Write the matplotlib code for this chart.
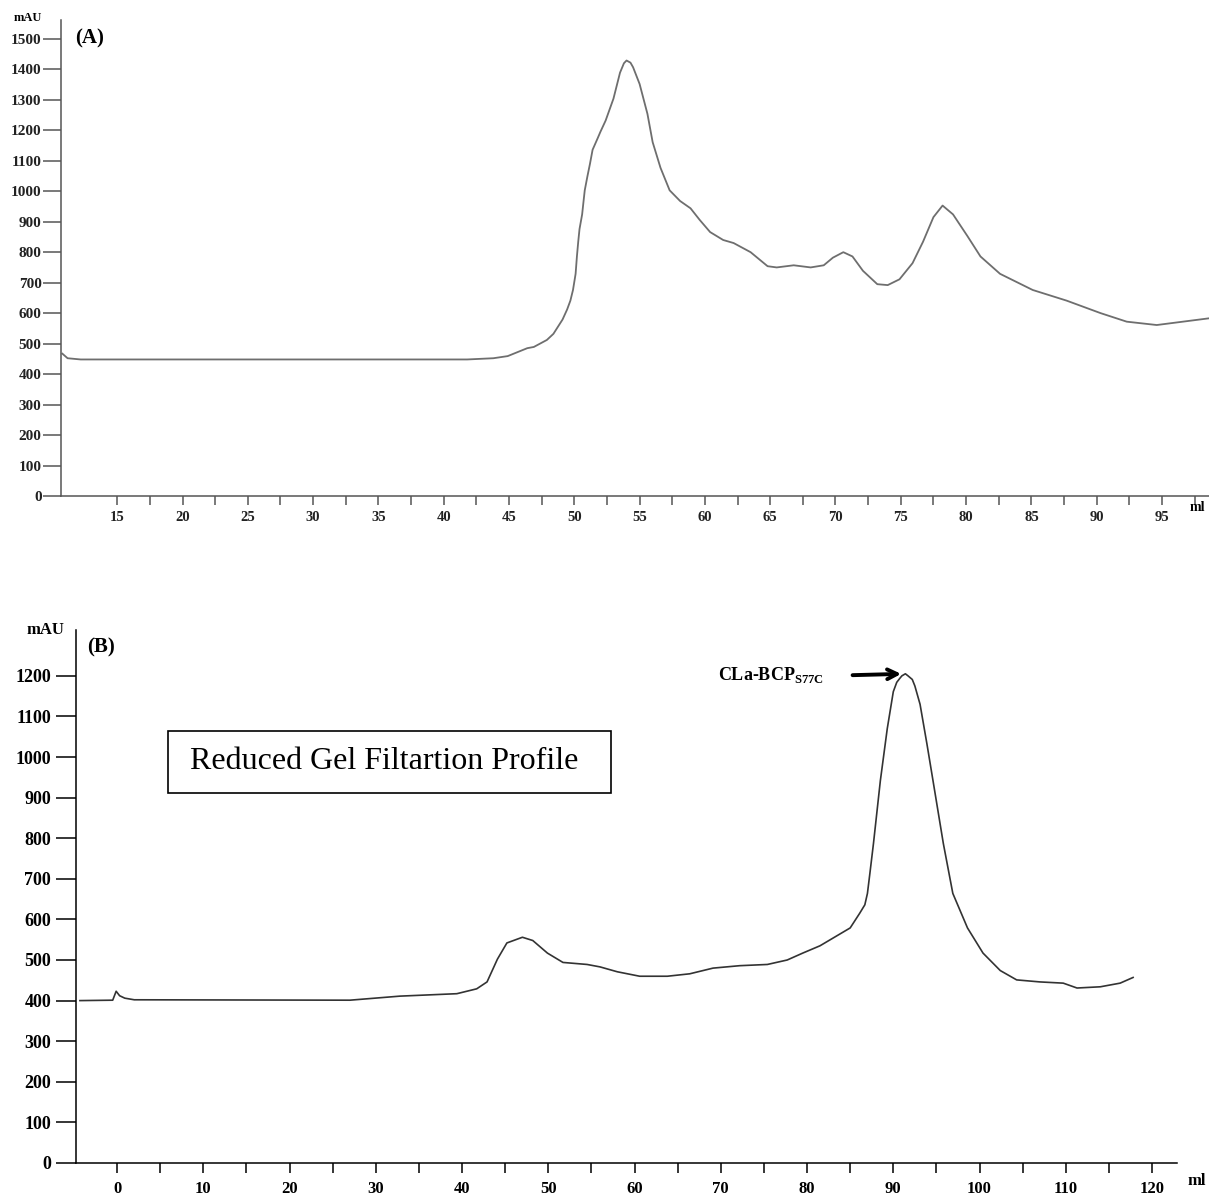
import numpy as np
import matplotlib.pyplot as plt
from matplotlib.patches import Rectangle

# panel (A): elution profile
a_ml = [10.8, 11.2, 12.2, 28.5, 41.8, 43.8, 44.9, 46.4, 46.9, 47.9, 48.4, 49.1,
        49.45, 49.7, 49.9, 50.1, 50.2, 50.3, 50.4, 50.6, 50.7, 50.8, 51.0, 51.2,
        51.4, 51.8, 52.0, 52.4, 53.0, 53.5, 53.8, 54.0, 54.3, 54.5, 55.0, 55.6,
        56.0, 56.6, 57.3, 58.1, 58.9, 59.6, 60.4, 61.4, 62.2, 63.5,
        64.8, 65.5, 66.8, 68.1, 69.1, 69.8, 70.6, 71.3, 72.1, 73.2, 74.0, 74.9,
        75.9, 76.7, 77.5, 78.2, 79.0, 80.1, 81.1, 82.6, 85.1, 87.7, 90.3, 92.3,
        94.6, 96.6, 98.6]
a_mau = [467, 452, 448, 448, 448, 452, 459, 485, 489, 512, 532, 579,
         612, 641, 676, 729, 786, 834, 876, 924, 964, 1003, 1048, 1090,
         1136, 1175, 1195, 1232, 1304, 1389, 1420, 1429, 1422, 1407, 1352, 1254,
         1161, 1077, 1003, 968, 944, 906, 866, 840, 830, 800,
         754, 750, 757, 750, 757, 782, 800, 786, 739, 695, 692, 711,
         764, 834, 915, 953, 924, 853, 786, 729, 676, 641, 600, 572,
         561, 572, 583]

# panel (B): reduced gel filtration profile
b_ml = [-4.3, -0.5, -0.1, 0.3, 0.9, 2.0, 27.0, 32.8, 39.4, 41.7, 42.9, 44.1,
        45.2, 47.0, 48.2, 49.9, 51.7, 54.5, 56.0, 58.0, 60.6, 63.8, 66.4, 69.1,
        72.2, 75.4, 77.7, 79.5, 81.5, 85.0, 86.1, 86.7, 87.0, 87.3, 87.7, 88.5,
        89.3, 90.0, 90.4, 90.8, 91.0, 91.4, 91.7, 92.2, 92.5, 93.1, 93.9, 94.6,
        95.8, 96.9, 98.6, 100.4, 102.4, 104.3, 107.0, 109.7, 111.3, 114.0, 116.3,
        117.8]
b_mau = [400, 401, 423, 412, 406, 402, 401, 411, 417, 429, 446, 502,
         542, 556, 548, 517, 494, 489, 483, 471, 460, 460, 466, 480,
         486, 489, 500, 517, 535, 579, 615, 636, 664, 716, 787, 942,
         1070, 1161, 1184, 1195, 1200, 1205, 1200, 1191, 1175, 1130, 1032, 942,
         787, 664, 579, 517, 474, 451, 446, 443, 431, 434, 443,
         457]

a_xticks = list(range(15, 96, 5))
a_yticks = list(range(0, 1501, 100))
b_xticks = list(range(0, 121, 10))
b_yticks = list(range(0, 1201, 100))

box_text = "Reduced Gel Filtartion Profile"
peak_label = r"CLa-BCP$_{\mathbf{S77C}}$"

plt.rcParams['font.family'] = ['Liberation Serif', 'DejaVu Serif']
plt.rcParams['mathtext.fontset'] = 'custom'
plt.rcParams['mathtext.rm'] = 'Liberation Serif'
plt.rcParams['mathtext.bf'] = 'Liberation Serif:bold'

fig = plt.figure(figsize=(12.09, 11.96), dpi=100)
ax1 = fig.add_axes([0.0505, 0.5853, 0.9495, 0.3980])
ax2 = fig.add_axes([0.0629, 0.0276, 0.9107, 0.4457])

# ---- panel A
ax1.plot(a_ml, a_mau, color='#6e6e6e', lw=1.3, solid_joinstyle='round')
ax1.set_xlim(10.7, 98.6)
ax1.set_ylim(0, 1562)
ax1.set_xticks(a_xticks)
ax1.set_xticks(np.arange(17.5, 98, 5), minor=True)
ax1.set_yticks(a_yticks)
for s in ['top', 'right']:
    ax1.spines[s].set_visible(False)
for s in ['left', 'bottom']:
    ax1.spines[s].set_color('#555555')
    ax1.spines[s].set_linewidth(1.1)
ax1.tick_params(axis='y', direction='out', length=13, width=1.1, pad=1,
                color='#555555', labelsize=11)
ax1.tick_params(axis='x', which='both', direction='out', length=6.5, width=1.1,
                pad=4, color='#555555', labelsize=10.5)
for lbl in ax1.get_xticklabels() + ax1.get_yticklabels():
    lbl.set_fontweight('bold')
    lbl.set_color('#222222')
ax1.text(0.0244, 0.962, "(A)", transform=ax1.transAxes, fontsize=15,
         fontweight='bold', ha='center', va='center')
ax1.text(-0.0287, 1.004, "mAU", transform=ax1.transAxes, fontsize=9,
         fontweight='bold', ha='center', va='center')
ax1.text(0.990, -0.025, "ml", transform=ax1.transAxes, fontsize=10,
         fontweight='bold', ha='center', va='center')

# ---- panel B
ax2.plot(b_ml, b_mau, color='#333333', lw=1.2, solid_joinstyle='round')
ax2.set_xlim(-4.75, 122.9)
ax2.set_ylim(0, 1313)
ax2.set_xticks(b_xticks)
ax2.set_xticks(np.arange(5, 120, 10), minor=True)
ax2.set_yticks(b_yticks)
for s in ['top', 'right']:
    ax2.spines[s].set_visible(False)
for s in ['left', 'bottom']:
    ax2.spines[s].set_linewidth(1.1)
ax2.tick_params(axis='y', direction='out', length=14.4, width=1.1, pad=3.5,
                labelsize=13)
ax2.tick_params(axis='x', which='both', direction='out', length=7.2, width=1.1,
                pad=5.5, labelsize=12)
for lbl in ax2.get_xticklabels() + ax2.get_yticklabels():
    lbl.set_fontweight('bold')
ax2.text(0.0227, 0.968, "(B)", transform=ax2.transAxes, fontsize=15,
         fontweight='bold', ha='center', va='center')
ax2.text(-0.0282, 1.0, "mAU", transform=ax2.transAxes, fontsize=12,
         fontweight='bold', ha='center', va='center')
ax2.text(1.018, -0.034, "ml", transform=ax2.transAxes, fontsize=12,
         fontweight='bold', ha='center', va='center')

ax2.add_patch(Rectangle((0.0836, 0.6942), 0.4024, 0.1163, transform=ax2.transAxes,
                        fill=False, ec='black', lw=1.2))
ax2.text(0.1035, 0.7523, box_text, transform=ax2.transAxes, fontsize=23,
         ha='left', va='center')

# label + arrow at the main peak
ip = int(np.argmax(b_mau))
peak = (b_ml[ip], b_mau[ip])
ax2.annotate('', xy=peak, xytext=(-38, -1), textcoords='offset points',
             arrowprops=dict(arrowstyle='->,head_length=0.7,head_width=0.35',
                             lw=2.8, color='black', shrinkA=0, shrinkB=3))
ax2.annotate(peak_label, xy=peak, xytext=(-59, -1), textcoords='offset points',
             fontsize=13, fontweight='bold', ha='right', va='center')

fig.savefig('out.png', dpi=100)
